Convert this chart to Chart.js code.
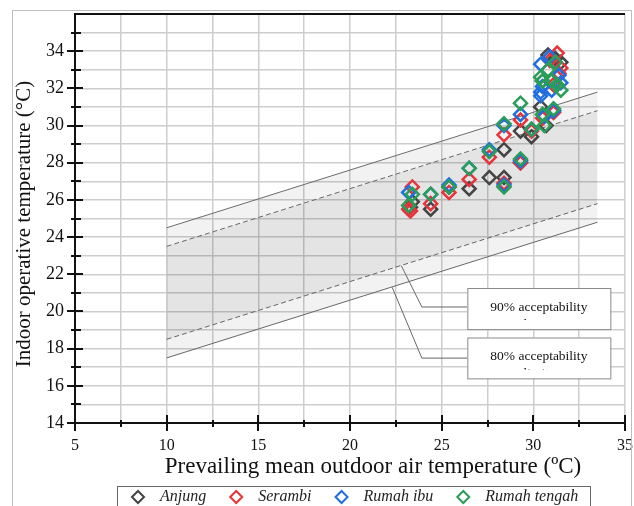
<!DOCTYPE html>
<html><head><meta charset="utf-8">
<script src="https://cdn.jsdelivr.net/npm/chart.js@4.4.1/dist/chart.umd.min.js"></script>
<style>html,body{margin:0;padding:0;background:#fff;}#wrap{width:634px;height:506px;}</style>
</head><body><div id="wrap"><canvas id="c" width="634" height="506"></canvas></div>
<script>
const seriesNames = ['Anjung', 'Serambi', 'Rumah ibu', 'Rumah tengah'];
const seriesColors = ['#444444', '#e5343a', '#1f6fe0', '#2a9e58'];

const anjungX = [23.4, 23.3, 24.4, 25.4, 26.5, 27.6, 28.4, 28.4, 29.3, 29.3, 29.9, 30.4, 30.7, 30.8, 30.5, 31.1, 31.5, 31.2];
const anjungY = [25.9, 25.6, 25.5, 26.7, 26.6, 27.2, 28.7, 27.2, 29.7, 28.0, 29.4, 31.0, 30.0, 33.8, 32.4, 30.8, 33.4, 33.6];

const serambiX = [23.3, 23.4, 23.2, 24.4, 25.4, 26.5, 27.6, 28.4, 28.4, 29.3, 29.3, 29.9, 30.5, 31.1, 31.3, 30.9, 31.5, 31.4, 30.6, 31.1];
const serambiY = [25.4, 26.7, 25.5, 25.8, 26.4, 27.1, 28.3, 29.5, 26.9, 30.3, 28.0, 29.7, 30.4, 30.7, 33.9, 33.5, 33.1, 32.8, 30.5, 32.2];

const rumahIbuX = [23.2, 24.4, 25.4, 26.5, 27.6, 28.4, 28.4, 29.3, 29.3, 29.9, 30.4, 30.4, 30.9, 30.4, 31.0, 31.5, 31.4, 30.5, 31.1, 30.6];
const rumahIbuY = [26.4, 26.3, 26.8, 27.7, 28.7, 30.0, 26.8, 30.6, 28.1, 29.8, 31.6, 31.8, 33.7, 33.3, 31.9, 32.3, 32.7, 32.1, 30.8, 30.5];

const rumahTengahX = [23.4, 23.2, 24.4, 25.4, 26.5, 27.6, 28.4, 28.4, 29.3, 29.3, 29.9, 30.5, 30.6, 31.1, 31.2, 30.4, 31.0, 31.5, 30.5, 31.3, 30.8];
const rumahTengahY = [26.3, 25.7, 26.3, 26.7, 27.7, 28.6, 30.1, 26.7, 31.2, 28.2, 29.8, 30.6, 30.0, 30.9, 33.4, 32.6, 32.4, 31.9, 32.4, 32.2, 33.0];

// acceptability limit lines (read at both ends)
const limitX = [10, 33.5];
const upper80 = [24.5, 31.8];
const upper90 = [23.5, 30.8];
const lower90 = [18.5, 25.8];
const lower80 = [17.5, 24.8];

const xTickLabels = [5, 10, 15, 20, 25, 30, 35];
const yTickLabels = [14, 16, 18, 20, 22, 24, 26, 28, 30, 32, 34];

// annotation anchors in data units
const note90 = {text: ['90% acceptability', 'limits'], from: [22.8, 22.46], elbow: [23.92, 20.24], box: [26.4, 21.26, 34.2, 19.05]};
const note80 = {text: ['80% acceptability', 'limits'], from: [22.3, 21.3], elbow: [23.92, 17.49], box: [26.4, 18.6, 34.2, 16.4]};

const SERIF = "'Liberation Serif', 'Times New Roman', serif";

function pts(xs, ys) { return xs.map((x, i) => ({x: x, y: ys[i]})); }

const seriesData = [pts(anjungX, anjungY), pts(serambiX, serambiY), pts(rumahIbuX, rumahIbuY), pts(rumahTengahX, rumahTengahY)];

function limitDs(vals, dashed, fill, bg) {
  return {type: 'line', data: pts(limitX, vals), borderColor: '#6a6a6a', borderWidth: 1,
    borderDash: dashed ? [5, 3] : [], pointRadius: 0, fill: fill, backgroundColor: bg, order: 10, tension: 0};
}

const datasets = [
  limitDs(upper80, false, '+1', 'rgba(0,0,0,0.05)'),
  limitDs(upper90, true, '+1', 'rgba(0,0,0,0.105)'),
  limitDs(lower90, true, '+1', 'rgba(0,0,0,0.05)'),
  limitDs(lower80, false, false, 'transparent')
];
seriesNames.forEach((n, i) => {
  datasets.push({type: 'scatter', label: n, data: seriesData[i], pointStyle: 'rectRot', pointRadius: 6.5,
    pointBorderWidth: 2.5, borderColor: seriesColors[i], backgroundColor: 'transparent', showLine: false, order: 4 - i});
});

const decor = {
  id: 'decor',
  afterDatasetsDraw(chart) {
    const ctx = chart.ctx, xs = chart.scales.x, ys = chart.scales.y;
    const P = (p) => [xs.getPixelForValue(p[0]), ys.getPixelForValue(p[1])];
    [note90, note80].forEach(n => {
      const a = P(n.from), e = P(n.elbow);
      const b1 = P([n.box[0], n.box[1]]), b2 = P([n.box[2], n.box[3]]);
      ctx.save();
      ctx.strokeStyle = '#666'; ctx.lineWidth = 1;
      ctx.beginPath(); ctx.moveTo(a[0], a[1]); ctx.lineTo(e[0], e[1]); ctx.lineTo(b1[0], e[1]); ctx.stroke();
      ctx.fillStyle = '#fff'; ctx.fillRect(b1[0], b1[1], b2[0] - b1[0], b2[1] - b1[1]);
      ctx.strokeStyle = '#8a8a8a';
      ctx.strokeRect(b1[0] + 0.5, b1[1] + 0.5, b2[0] - b1[0], b2[1] - b1[1]);
      ctx.beginPath(); ctx.rect(b1[0] + 1, b1[1] + 1, b2[0] - b1[0] - 2, b2[1] - b1[1] - 10); ctx.clip();
      ctx.fillStyle = '#111'; ctx.font = '13.5px ' + SERIF; ctx.textAlign = 'center'; ctx.textBaseline = 'middle';
      const cx = (b1[0] + b2[0]) / 2;
      ctx.fillText(n.text[0], cx, b1[1] + 19);
      ctx.fillText(n.text[1], cx, b1[1] + 36);
      ctx.restore();
    });
  },
  afterDraw(chart) {
    const ctx = chart.ctx, xs = chart.scales.x, ys = chart.scales.y, ca = chart.chartArea;
    ctx.save();
    ctx.strokeStyle = '#111'; ctx.lineWidth = 2;
    ctx.beginPath(); ctx.moveTo(ca.left, ca.top); ctx.lineTo(ca.right, ca.top); ctx.stroke();
    const x0 = ca.left, y0 = ca.bottom;
    for (let v = 14; v <= 35; v += 1) {
      const py = Math.round(ys.getPixelForValue(v));
      const major = yTickLabels.includes(v);
      ctx.beginPath(); ctx.moveTo(x0 - (major ? 8 : 4), py); ctx.lineTo(x0 + (major ? 8 : 6), py); ctx.stroke();
    }
    for (let v = 5; v <= 35; v += 2.5) {
      const px = Math.round(xs.getPixelForValue(v));
      const major = xTickLabels.includes(v);
      ctx.beginPath(); ctx.moveTo(px, y0 - (major ? 8 : 3)); ctx.lineTo(px, y0 + (major ? 8 : 4)); ctx.stroke();
    }
    ctx.fillStyle = '#111'; ctx.textAlign = 'center'; ctx.textBaseline = 'middle';
    ctx.font = '23px ' + SERIF;
    ctx.fillText('Prevailing mean outdoor air temperature (ºC)', 373, 467);
    ctx.save(); ctx.translate(24, 224); ctx.rotate(-Math.PI / 2);
    ctx.font = '21px ' + SERIF;
    ctx.fillText('Indoor operative temperature (°C)', 0, 0);
    ctx.restore();
    ctx.strokeStyle = '#bdbdbd'; ctx.lineWidth = 1;
    ctx.beginPath(); ctx.moveTo(12.5, 520); ctx.lineTo(12.5, 10.5); ctx.lineTo(631.5, 10.5); ctx.lineTo(631.5, 520); ctx.stroke();
    const lx0 = 117, ly = 497;
    ctx.font = 'italic 16px ' + SERIF; ctx.textAlign = 'left';
    let x = lx0 + 21;
    chart.data.datasets.filter(d => d.label).forEach((d) => {
      ctx.strokeStyle = d.borderColor; ctx.lineWidth = 2;
      ctx.beginPath(); ctx.moveTo(x - 6, ly); ctx.lineTo(x, ly - 6); ctx.lineTo(x + 6, ly); ctx.lineTo(x, ly + 6); ctx.closePath(); ctx.stroke();
      ctx.fillStyle = '#222';
      ctx.fillText(d.label, x + 22, ly);
      x = x + 22 + ctx.measureText(d.label).width + 30;
    });
    ctx.strokeStyle = '#666'; ctx.lineWidth = 1;
    ctx.strokeRect(lx0 + 0.5, 486.5, 590 - lx0, 40);
    ctx.restore();
  }
};

new Chart(document.getElementById('c'), {
  type: 'scatter',
  data: {datasets: datasets},
  options: {
    responsive: false, animation: false, devicePixelRatio: 1,
    layout: {padding: {top: 14, right: 4, left: 0, bottom: 0}},
    plugins: {legend: {display: false}, tooltip: {enabled: false}},
    scales: {
      x: {type: 'linear', min: 5, max: 35,
        ticks: {stepSize: 2.5, autoSkip: false, maxRotation: 0, padding: 13, color: '#111',
          font: {family: SERIF, size: 16}, callback: v => xTickLabels.includes(v) ? String(v) : ''},
        grid: {color: '#cdcdcd', lineWidth: 1.5, drawTicks: false},
        border: {display: true, color: '#111', width: 2},
        afterFit: s => { s.height = 83; s.paddingLeft = 0; s.paddingRight = 0; }
      },
      y: {type: 'linear', min: 14, max: 36,
        ticks: {stepSize: 1, autoSkip: false, padding: 11, color: '#111',
          font: {family: SERIF, size: 18}, callback: v => yTickLabels.includes(v) ? String(v) : ''},
        grid: {color: '#cdcdcd', lineWidth: 1.5, drawTicks: false},
        border: {display: true, color: '#111', width: 2},
        afterFit: s => { s.width = 75; s.paddingTop = 0; s.paddingBottom = 0; }
      }
    }
  },
  plugins: [decor]
});
</script>
</body></html>
